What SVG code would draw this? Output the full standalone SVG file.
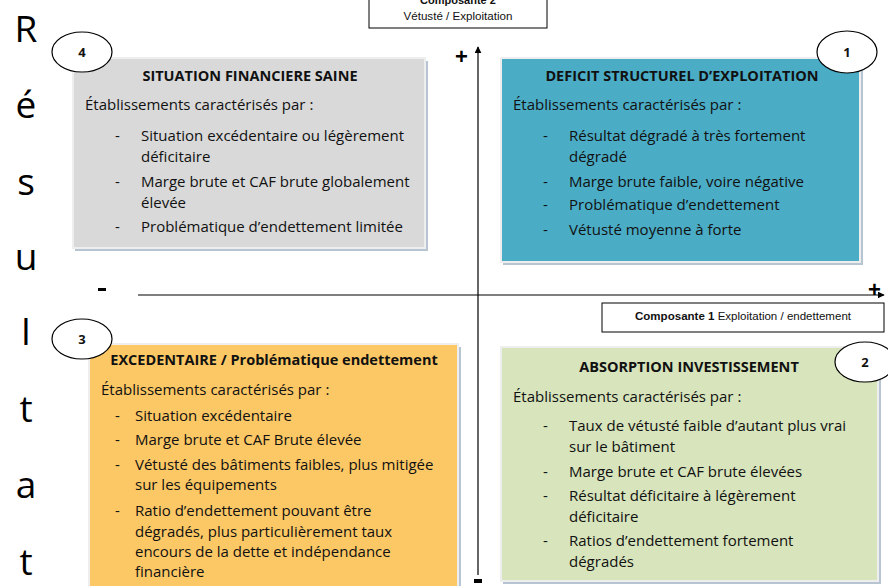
<svg xmlns="http://www.w3.org/2000/svg" width="888" height="586" viewBox="0 0 888 586">
  <defs>
    <marker id="arrow" viewBox="0 0 10 10" refX="9" refY="5" markerWidth="7" markerHeight="7" orient="auto-start-reverse" markerUnits="userSpaceOnUse">
      <path d="M0,0 L10,5 L0,10 z" fill="#000"/>
    </marker>
    <style>
      .bg { fill: #ffffff; }
      .shadow { fill: #b7c4d2; }
      .box { stroke: #eeeeee; stroke-width: 2; }
      .t { font-family: "Open Sans", "Noto Sans", sans-serif; font-size: 15px; fill: #111; }
      .h { font-family: "Open Sans", "Noto Sans", sans-serif; font-size: 14.5px; font-weight: bold; fill: #111; text-anchor: middle; }
      .num { font-family: "Open Sans", "Noto Sans", sans-serif; font-size: 13px; font-weight: bold; fill: #111; text-anchor: middle; }
      .badge { fill: #fff; stroke: #000; stroke-width: 1.2; }
      .axis { stroke: #000; stroke-width: 1.2; fill: none; }
      .sign { font-family: "Liberation Sans", Arial, sans-serif; font-size: 22px; font-weight: bold; fill: #000; }
      .lbl { fill: #fff; stroke: #000; stroke-width: 1; }
      .small { font-family: "Liberation Sans", Arial, sans-serif; font-size: 11px; fill: #111; text-anchor: middle; }
      .vert { font-family: "Open Sans", "Noto Sans", sans-serif; font-size: 37px; fill: #000; text-anchor: middle; }
    </style>
  </defs>

  <rect class="bg" x="0" y="0" width="888" height="586"/>

  <!-- vertical axis title -->
  <g id="axis-title-resultat">
    <text class="vert" x="26" y="42">R</text>
    <text class="vert" x="26" y="118">é</text>
    <text class="vert" x="26" y="195">s</text>
    <text class="vert" x="26" y="270">u</text>
    <text class="vert" x="26" y="345">l</text>
    <text class="vert" x="26" y="422">t</text>
    <text class="vert" x="26" y="498">a</text>
    <text class="vert" x="26" y="575">t</text>
  </g>

  <!-- axes -->
  <g id="connectors">
    <line class="axis" x1="478" y1="575" x2="478" y2="47" marker-end="url(#arrow)"/>
    <line class="axis" x1="138" y1="295" x2="884" y2="295" marker-end="url(#arrow)"/>
    <text class="sign" x="455" y="64">+</text>
    <text class="sign" x="868" y="297">+</text>
    <rect x="98" y="288" width="8" height="3" fill="#000"/>
    <rect x="474" y="579" width="8" height="4" fill="#000"/>
  </g>

  <!-- axis labels -->
  <g id="label-composante-2">
    <rect class="lbl" x="369" y="-2" width="178" height="30"/>
    <text class="small" x="458" y="4" font-weight="bold">Composante 2</text>
    <text class="small" x="458" y="20" textLength="109" lengthAdjust="spacingAndGlyphs">Vétusté / Exploitation</text>
  </g>
  <g id="label-composante-1">
    <rect class="lbl" x="602" y="303" width="282" height="29"/>
    <text class="small" x="743" y="320" textLength="216" lengthAdjust="spacingAndGlyphs"><tspan font-weight="bold">Composante 1</tspan> Exploitation / endettement</text>
  </g>

  <!-- quadrant 4 -->
  <g id="q4-situation-saine">
    <rect class="shadow" x="75" y="61" width="353" height="190"/>
    <rect class="box" x="73" y="58" width="352" height="190" fill="#d9d9d9"/>
    <text class="h" x="250" y="81">SITUATION FINANCIERE SAINE</text>
    <text class="t" x="85" y="110">Établissements caractérisés par :</text>
    <text class="t" x="115" y="141">-</text>
    <text class="t" x="141" y="141">Situation excédentaire ou légèrement</text>
    <text class="t" x="141" y="162">déficitaire</text>
    <text class="t" x="115" y="187">-</text>
    <text class="t" x="141" y="187">Marge brute et CAF brute globalement</text>
    <text class="t" x="141" y="208">élevée</text>
    <text class="t" x="115" y="232">-</text>
    <text class="t" x="141" y="232">Problématique d’endettement limitée</text>
    <ellipse class="badge" cx="82" cy="52" rx="30" ry="20"/>
    <text class="num" x="82" y="57">4</text>
  </g>

  <!-- quadrant 1 -->
  <g id="q1-deficit-structurel">
    <rect class="shadow" x="503" y="61" width="360" height="204"/>
    <rect class="box" x="501" y="58" width="359" height="204" fill="#4bacc6"/>
    <text class="h" x="682" y="81">DEFICIT STRUCTUREL D’EXPLOITATION</text>
    <text class="t" x="513" y="110">Établissements caractérisés par :</text>
    <text class="t" x="543" y="141">-</text>
    <text class="t" x="569" y="141">Résultat dégradé à très fortement</text>
    <text class="t" x="569" y="162">dégradé</text>
    <text class="t" x="543" y="187">-</text>
    <text class="t" x="569" y="187">Marge brute faible, voire négative</text>
    <text class="t" x="543" y="210">-</text>
    <text class="t" x="569" y="210">Problématique d’endettement</text>
    <text class="t" x="543" y="235">-</text>
    <text class="t" x="569" y="235">Vétusté moyenne à forte</text>
    <ellipse class="badge" cx="847" cy="52" rx="30" ry="21"/>
    <text class="num" x="847" y="57">1</text>
  </g>

  <!-- quadrant 3 -->
  <g id="q3-excedentaire">
    <rect class="shadow" x="91" y="347" width="370" height="242"/>
    <rect class="box" x="89" y="344" width="369" height="245" fill="#fcc865"/>
    <text class="h" x="274" y="365">EXCEDENTAIRE / Problématique endettement</text>
    <text class="t" x="101" y="395">Établissements caractérisés par :</text>
    <text class="t" x="115" y="421">-</text>
    <text class="t" x="135" y="421">Situation excédentaire</text>
    <text class="t" x="115" y="445">-</text>
    <text class="t" x="135" y="445">Marge brute et CAF Brute élevée</text>
    <text class="t" x="115" y="470">-</text>
    <text class="t" x="135" y="470">Vétusté des bâtiments faibles, plus mitigée</text>
    <text class="t" x="135" y="490">sur les équipements</text>
    <text class="t" x="115" y="516">-</text>
    <text class="t" x="135" y="516">Ratio d’endettement pouvant être</text>
    <text class="t" x="135" y="537">dégradés, plus particulièrement taux</text>
    <text class="t" x="135" y="557">encours de la dette et indépendance</text>
    <text class="t" x="135" y="577">financière</text>
    <ellipse class="badge" cx="82" cy="339" rx="30" ry="20"/>
    <text class="num" x="82" y="344">3</text>
  </g>

  <!-- quadrant 2 -->
  <g id="q2-absorption">
    <rect class="shadow" x="503" y="350" width="378" height="234"/>
    <rect class="box" x="501" y="347" width="377" height="234" fill="#d7e4bc"/>
    <text class="h" x="689" y="372">ABSORPTION INVESTISSEMENT</text>
    <text class="t" x="513" y="402">Établissements caractérisés par :</text>
    <text class="t" x="543" y="431">-</text>
    <text class="t" x="569" y="431">Taux de vétusté faible d’autant plus vrai</text>
    <text class="t" x="569" y="452">sur le bâtiment</text>
    <text class="t" x="543" y="477">-</text>
    <text class="t" x="569" y="477">Marge brute et CAF brute élevées</text>
    <text class="t" x="543" y="501">-</text>
    <text class="t" x="569" y="501">Résultat déficitaire à légèrement</text>
    <text class="t" x="569" y="522">déficitaire</text>
    <text class="t" x="543" y="546">-</text>
    <text class="t" x="569" y="546">Ratios d’endettement fortement</text>
    <text class="t" x="569" y="567">dégradés</text>
    <ellipse class="badge" cx="865" cy="362" rx="30" ry="20"/>
    <text class="num" x="865" y="367">2</text>
  </g>
</svg>
